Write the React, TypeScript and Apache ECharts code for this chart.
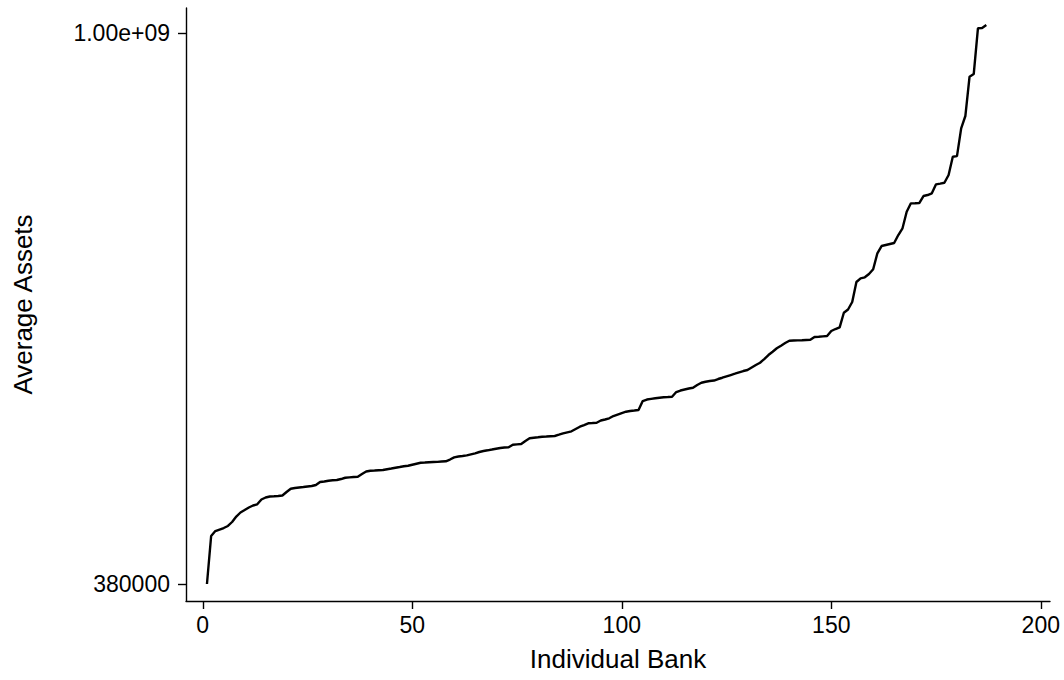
import React, { useEffect, useRef } from "react";
import * as echarts from "echarts";

// Average assets per bank, sorted ascending (bank 1 .. 187)
const averageAssets: number[] = [
  380000, 755000, 810000, 828000, 846000, 871000, 922000, 997000, 1056000, 1094000,
  1134000, 1167000, 1187000, 1272000, 1308000, 1327000, 1331000, 1337000, 1346000, 1415000,
  1484000, 1499000, 1510000, 1520000, 1531000, 1542000, 1564000, 1633000, 1644000, 1663000,
  1673000, 1680000, 1704000, 1736000, 1746000, 1754000, 1761000, 1830000, 1897000, 1919000,
  1924000, 1933000, 1938000, 1961000, 1980000, 2003000, 2023000, 2044000, 2061000, 2091000,
  2121000, 2151000, 2158000, 2167000, 2173000, 2179000, 2189000, 2195000, 2252000, 2324000,
  2351000, 2368000, 2391000, 2426000, 2461000, 2507000, 2543000, 2569000, 2598000, 2628000,
  2655000, 2674000, 2681000, 2782000, 2798000, 2811000, 2934000, 3050000, 3076000, 3097000,
  3120000, 3128000, 3142000, 3151000, 3210000, 3275000, 3322000, 3370000, 3483000, 3599000,
  3687000, 3779000, 3794000, 3811000, 3933000, 3990000, 4058000, 4194000, 4285000, 4377000,
  4460000, 4504000, 4536000, 4569000, 5196000, 5309000, 5362000, 5409000, 5447000, 5486000,
  5502000, 5526000, 5909000, 6037000, 6124000, 6212000, 6284000, 6531000, 6749000, 6846000,
  6916000, 6966000, 7117000, 7249000, 7396000, 7535000, 7677000, 7832000, 7978000, 8093000,
  8389000, 8693000, 8982000, 9471000, 10030000, 10510000, 11040000, 11460000, 11900000, 12300000,
  12340000, 12370000, 12390000, 12430000, 12460000, 12970000, 13020000, 13100000, 13150000, 14130000,
  14540000, 14900000, 18350000, 19220000, 21390000, 28480000, 30020000, 30450000, 31920000, 34140000,
  42910000, 47620000, 48310000, 49010000, 49710000, 55730000, 61330000, 77780000, 87670000, 87700000,
  88000000, 97320000, 98720000, 101200000, 115000000, 116300000, 117700000, 131400000, 170700000, 172000000,
  256100000, 305400000, 535500000, 556600000, 1070000000, 1075000000, 1121000000,
];

const xTickValues: number[] = [0, 50, 100, 150, 200];
const yTickValues: number[] = [380000, 1000000000];
const yTickLabels: string[] = ["380000", "1.00e+09"];

const FONT = "'Liberation Sans', Arial, Helvetica, sans-serif";

export default function App() {
  const ref = useRef<HTMLDivElement>(null);

  useEffect(() => {
    if (!ref.current) return;
    const chart = echarts.init(ref.current, undefined, { renderer: "svg" });
    const points = averageAssets.map((v, i) => [i + 1, v]);
    chart.setOption({
      animation: false,
      backgroundColor: "#ffffff",
      grid: { left: 186, right: 14, top: 8, bottom: 79, containLabel: false },
      xAxis: {
        type: "value",
        min: -4,
        max: 202.2,
        name: "Individual Bank",
        nameLocation: "middle",
        nameGap: 45,
        nameTextStyle: { color: "#000", fontSize: 26, fontFamily: FONT },
        axisLine: { show: true, onZero: false, lineStyle: { color: "#000", width: 1.4 } },
        axisTick: { show: true, length: 8, lineStyle: { color: "#000", width: 1.4 }, customValues: xTickValues },
        axisLabel: { color: "#000", fontSize: 23, fontFamily: FONT, margin: 12, customValues: xTickValues },
        splitLine: { show: false },
      },
      yAxis: {
        type: "log",
        logBase: 10,
        min: 298100,
        max: 1430000000,
        name: "Average Assets",
        nameLocation: "middle",
        nameGap: 150,
        nameRotate: 90,
        nameTextStyle: { color: "#000", fontSize: 26, fontFamily: FONT },
        axisLine: { show: true, onZero: false, lineStyle: { color: "#000", width: 1.4 } },
        axisTick: { show: true, length: 8, lineStyle: { color: "#000", width: 1.4 }, customValues: yTickValues },
        axisLabel: {
          color: "#000",
          fontSize: 23,
          fontFamily: FONT,
          margin: 16,
          customValues: yTickValues,
          formatter: (v: number) => {
            const idx = yTickValues.findIndex((t) => Math.abs(t - v) / t < 1e-6);
            return idx >= 0 ? yTickLabels[idx] : "";
          },
        },
        splitLine: { show: false },
      },
      series: [
        {
          type: "line",
          data: points,
          showSymbol: false,
          symbol: "none",
          lineStyle: { color: "#000", width: 2.4 },
        },
      ],
    });
    return () => chart.dispose();
  }, []);

  return (
    <div
      ref={ref}
      style={{ position: "fixed", left: 0, top: 0, width: 1064, height: 680, background: "#fff" }}
    />
  );
}
